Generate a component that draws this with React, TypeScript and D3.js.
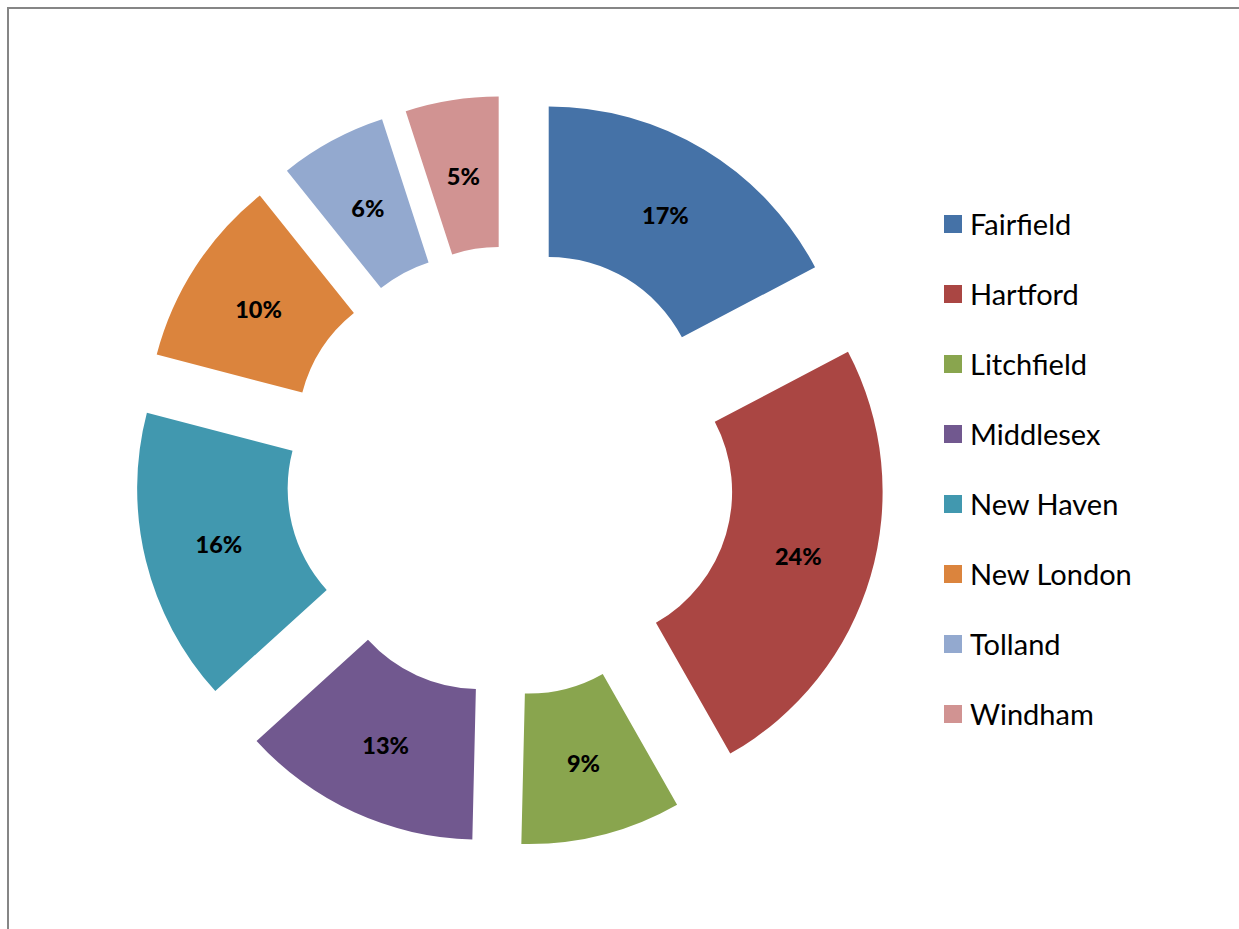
import React from "react";
import * as d3 from "d3";

const counties = ["Fairfield", "Hartford", "Litchfield", "Middlesex", "New Haven", "New London", "Tolland", "Windham"];
const shares = [17.3, 24.5, 8.6, 12.9, 15.8, 10.2, 5.75, 5.0];
const colors = ["#4572A7", "#AA4643", "#89A54E", "#71588F", "#4198AF", "#DB843D", "#93A9CF", "#D19392"];

const W = 1239;
const H = 929;
const CX = 510.3;
const CY = 471;
const R_OUT = 301;
const R_IN = 150.5;
const EXPLODE = 74.3;

export default function App() {
  const total = d3.sum(shares);
  const pie = d3.pie<number>().sort(null).value((d) => d).startAngle(0).endAngle(2 * Math.PI);
  const arcs = pie(shares);
  const arc = d3.arc<d3.PieArcDatum<number>>().innerRadius(R_IN).outerRadius(R_OUT);
  const fmt = d3.format(".0%");

  return (
    <svg width={W} height={H} style={{ position: "absolute", left: 0, top: 0, background: "#fff" }}>
      <rect x={8} y={8} width={W} height={H} fill="#fff" stroke="#868686" strokeWidth={2} />
      <g transform={`translate(${CX},${CY})`}>
        {arcs.map((a, i) => {
          const mid = (a.startAngle + a.endAngle) / 2;
          const dx = EXPLODE * Math.sin(mid);
          const dy = -EXPLODE * Math.cos(mid);
          const [lx, ly] = arc.centroid(a);
          return (
            <g key={counties[i]} transform={`translate(${dx},${dy})`}>
              <path d={arc(a) || ""} fill={colors[i]} />
              <text
                x={lx}
                y={ly + 1}
                textAnchor="middle"
                dominantBaseline="central"
                fontFamily="Lato, 'Open Sans', sans-serif"
                fontWeight="900"
                fontSize={23.5}
                fill="#000"
              >
                {fmt(shares[i] / total)}
              </text>
            </g>
          );
        })}
      </g>
      <g>
        {counties.map((c, i) => (
          <g key={c} transform={`translate(944,${215 + i * 70})`}>
            <rect x={0} y={0} width={18} height={18} fill={colors[i]} />
            <text x={26} y={19.5} fontFamily="Lato, 'Open Sans', sans-serif" fontSize={29} fill="#000">
              {c}
            </text>
          </g>
        ))}
      </g>
    </svg>
  );
}
